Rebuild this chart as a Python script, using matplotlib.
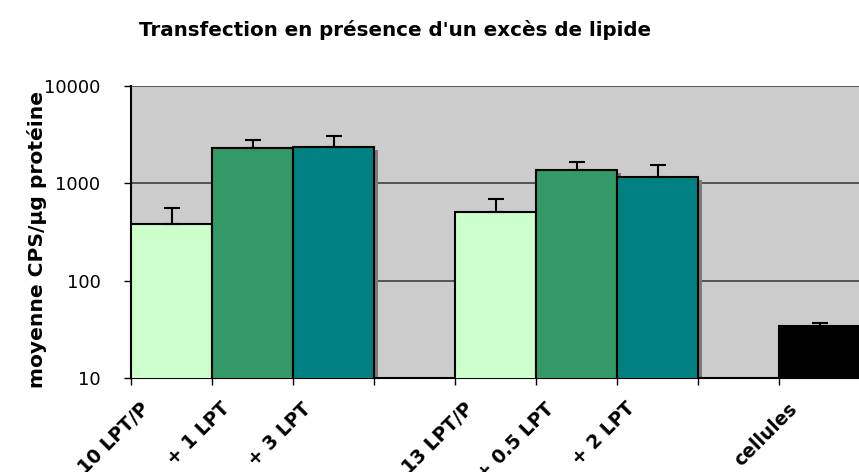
import matplotlib.pyplot as plt
from matplotlib.transforms import ScaledTranslation

labels = ['10 LPT/P', '+ 1 LPT', '+ 3 LPT', '13 LPT/P', '+ 0.5 LPT', '+ 2 LPT', 'cellules']
slots = [0, 1, 2, 4, 5, 6, 8]
means = [378, 2290, 2390, 506, 1370, 1160, 34]
err_up = [174, 500, 640, 178, 290, 380, 2.5]
colors = ['#CCFFCC', '#339966', '#008080', '#CCFFCC', '#339966', '#008080', '#000000']

plt.rcParams['font.family'] = 'DejaVu Sans'

fig = plt.figure(figsize=(8.59, 4.72), dpi=100)
ax = fig.add_axes([131 / 859, 1 - 378 / 472, 729 / 859, (378 - 86) / 472])
ax.set_facecolor('#CCCCCC')

# drop shadows behind the bars
shadow = ax.transData + ScaledTranslation(4 / 100, -3 / 100, fig.dpi_scale_trans)
ax.bar(slots, means, width=1.0, color='#7a7a7a', linewidth=0, zorder=2, transform=shadow)
ax.bar(slots, means, width=1.0, color=colors, edgecolor='black', linewidth=1.5, zorder=3)
ax.errorbar(slots, means, yerr=[[0] * len(means), err_up], fmt='none', ecolor='black',
            elinewidth=1.5, capsize=5.8, capthick=1.5, zorder=4)

ax.set_yscale('log')
ax.set_ylim(10, 10000)
ax.set_xlim(-0.5, 8.5)
ax.set_yticks([10, 100, 1000, 10000])
ax.set_yticklabels(['10', '100', '1000', '10000'], fontsize=13)
ax.minorticks_off()
ax.yaxis.grid(True, color='#404040', linewidth=1.2, zorder=1)
ax.set_axisbelow(True)
ax.tick_params(axis='y', length=5, width=1, pad=17)

ax.set_xticks([x - 0.5 for x in range(10)])
ax.set_xticklabels([])
ax.tick_params(axis='x', length=5, width=1)

for s in ['top', 'right']:
    ax.spines[s].set_visible(False)
ax.spines['left'].set_linewidth(1.5)
ax.spines['bottom'].set_linewidth(1.5)

lab_off = ax.get_xaxis_transform() + ScaledTranslation(-32 / 100, -21 / 100, fig.dpi_scale_trans)
for s, lab in zip(slots, labels):
    ax.text(s, 0, lab, transform=lab_off, rotation=45, rotation_mode='anchor',
            ha='right', va='top', fontsize=13.5, fontweight='bold')

fig.text(37 / 859, 1 - 240 / 472, 'moyenne CPS/µg protéine', rotation=90,
         ha='center', va='center', fontsize=14.6, fontweight='bold')
fig.text(395 / 859, 1 - 30 / 472, "Transfection en présence d'un excès de lipide",
         ha='center', va='center', fontsize=14.3, fontweight='bold')

fig.savefig('out.png', dpi=100)
